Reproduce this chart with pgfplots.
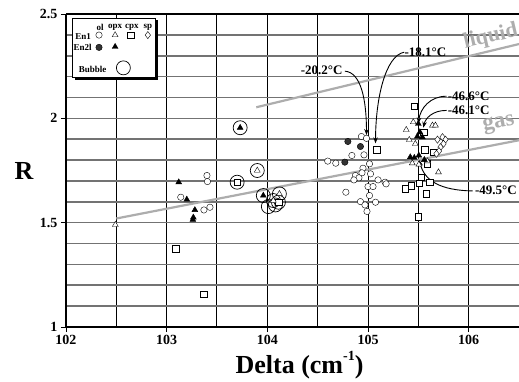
\documentclass[border=0pt]{standalone}
\usepackage{fontspec}
\setmainfont{Liberation Serif}
\usepackage{pgfplots}
\pgfplotsset{compat=1.18}
\usetikzlibrary{arrows.meta}
\definecolor{gridgray}{gray}{0.45}
\definecolor{linegray}{gray}{0.68}
\pgfplotsset{
 mk/.style={only marks, mark options={draw=black, line width=0.7pt, solid}},
 olE/.style={mk, mark=*, mark size=3.2pt, mark options={fill=white}},
 olF/.style={mk, mark=*, mark size=3.2pt, mark options={fill=black!80}},
 opxE/.style={mk, mark=triangle*, mark size=3.4pt, mark options={fill=white}},
 opxF/.style={mk, mark=triangle*, mark size=3.4pt, mark options={fill=black}},
 cpxE/.style={mk, mark=square*, mark size=3.3pt, mark options={fill=white}},
 spE/.style={mk, mark=diamond*, mark size=3.6pt, mark options={fill=white}},
 bub/.style={mk, mark=o, mark size=7pt},
}
\begin{document}
\begin{tikzpicture}
\begin{axis}[
 scale only axis, width=453pt, height=313pt,
 xmin=102, xmax=106.5, ymin=1, ymax=2.5,
 axis line style={draw=none},
 xtick={102,102.5,103,103.5,104,104.5,105,105.5,106},
 xticklabels={},
 ytick={1,1.1,1.2,1.3,1.4,1.5,1.6,1.7,1.8,1.9,2,2.1,2.2,2.3,2.4,2.5},
 yticklabels={},
 x grid style={black, line width=1pt},
 y grid style={gridgray, line width=1.6pt},
 xmajorgrids, ymajorgrids,
 major tick length=0pt,
 extra x ticks={102,103,104,105,106},
 extra y ticks={1,1.5,2,2.5},
 extra x tick style={grid=none, tick align=outside, major tick length=5pt, tick style={black, line width=0.8pt}},
 extra y tick style={grid=none, tick align=outside, major tick length=5pt, tick style={black, line width=0.8pt}},
 xtick pos=bottom, ytick pos=left,
 /pgf/number format/assume math mode=true,
 ticklabel style={font=\bfseries\fontsize{14}{14}\selectfont},
 clip=false,
]
% phase lines
\addplot[linegray, line width=2.2pt] coordinates {(103.89,2.053) (106.5,2.356)};
\addplot[linegray, line width=2.2pt] coordinates {(102.5,1.52) (106.5,1.895)};
% axis border
\draw[black, line width=1.4pt] (axis cs:102,2.5) -- (axis cs:102,1) -- (axis cs:106.5,1);
\draw[black, line width=1.4pt] (axis cs:102,2.5) -- (axis cs:106.5,2.5);
% bubbles
\addplot[bub] coordinates {(103.73,1.955) (103.90,1.75) (103.70,1.694) (103.96,1.63) (104.12,1.638) (104.06,1.606) (104.11,1.598) (104.01,1.577) (104.08,1.585)};
% En1 ol
\addplot[olE] coordinates {
(103.40,1.726) (103.405,1.697) (103.14,1.622) (103.37,1.561) (103.43,1.574)
(104.935,1.913) (104.985,1.904) (104.84,1.822) (104.96,1.825) (104.60,1.795) (104.68,1.785)
(105.015,1.782) (104.95,1.761) (104.94,1.739) (105.025,1.734) (104.875,1.726) (104.91,1.715)
(104.86,1.705) (105.10,1.705) (105.17,1.694) (105.18,1.686) (105.0,1.673) (105.05,1.673)
(104.78,1.646) (105.015,1.63) (104.925,1.601) (104.97,1.585) (105.075,1.598) (104.99,1.554)};
% En2l ol
\addplot[olF] coordinates {(104.80,1.889) (104.925,1.865) (104.77,1.79)};
% En1 cpx
\addplot[cpxE] coordinates {
(103.09,1.376) (103.37,1.157) (103.70,1.694) (104.11,1.598)
(105.085,1.85) (105.46,2.058) (105.555,1.934) (105.565,1.851) (105.655,1.838) (105.59,1.782)
(105.53,1.718) (105.51,1.689) (105.43,1.678) (105.615,1.694) (105.37,1.662) (105.58,1.638) (105.50,1.53)};
% En1 sp
\addplot[spE] coordinates {(105.69,1.898) (105.74,1.91) (105.77,1.898) (105.75,1.878) (105.72,1.862) (105.705,1.843) (105.68,1.83)};
% En1 opx
\addplot[opxE] coordinates {
(102.49,1.49) (103.90,1.75) (104.12,1.638) (104.06,1.606)
(105.38,1.945) (105.41,1.897) (105.45,1.982) (105.64,1.966) (105.67,1.966) (105.47,1.878)
(105.44,1.785) (105.505,1.779) (105.70,1.742) (105.59,1.795)};
% En2l opx
\addplot[opxF] coordinates {
(103.73,1.955) (103.96,1.63)
(103.12,1.694) (103.20,1.611) (103.28,1.561) (103.26,1.514) (103.265,1.525)
(105.50,1.974) (105.515,1.934) (105.54,1.91) (105.49,1.913)
(105.42,1.814) (105.46,1.811) (105.505,1.822) (105.56,1.801)};
% annotations
\tikzset{ann/.style={font=\bfseries\fontsize{13}{13}\selectfont, inner sep=1pt}, arr/.style={-{Stealth[length=6pt,width=4.5pt]}, line width=0.9pt}}
\node[ann] at (axis cs:104.54,2.231) {-20.2°C};
\draw[arr] (axis cs:104.77,2.226) .. controls (axis cs:104.93,2.221) and (axis cs:104.985,2.09) .. (axis cs:104.985,1.92);
\node[ann] at (axis cs:105.57,2.317) {-18.1°C};
\draw[arr] (axis cs:105.36,2.317) .. controls (axis cs:105.17,2.30) and (axis cs:105.075,2.09) .. (axis cs:105.075,1.88);
\node[ann] at (axis cs:106.0,2.106) {-46.6°C};
\draw[arr] (axis cs:105.78,2.106) .. controls (axis cs:105.62,2.106) and (axis cs:105.52,2.05) .. (axis cs:105.50,1.975);
\node[ann] at (axis cs:106.0,2.038) {-46.1°C};
\draw[arr] (axis cs:105.78,2.038) .. controls (axis cs:105.64,2.038) and (axis cs:105.57,2.0) .. (axis cs:105.55,1.955);
\node[ann] at (axis cs:106.27,1.655) {-49.5°C};
\draw[arr] (axis cs:106.04,1.652) .. controls (axis cs:105.72,1.655) and (axis cs:105.56,1.70) .. (axis cs:105.51,1.80);
\node[font=\bfseries\fontsize{22}{22}\selectfont, text=linegray, rotate=13, inner sep=0pt] at (axis cs:106.22,2.39) {liquid};
\node[font=\bfseries\fontsize{23}{23}\selectfont, text=linegray, rotate=11, inner sep=0pt] at (axis cs:106.3,1.972) {gas};
% legend box
\fill[black] (axis cs:102.085,2.469) rectangle (axis cs:102.91,2.185);
\draw[black, line width=0.8pt, fill=white] (axis cs:102.06,2.481) rectangle (axis cs:102.885,2.197);
\tikzset{lg/.style={font=\bfseries\fontsize{9}{9}\selectfont, inner sep=0pt}}
\node[lg] at (axis cs:102.338,2.435) {ol};
\node[lg] at (axis cs:102.488,2.435) {opx};
\node[lg] at (axis cs:102.654,2.435) {cpx};
\node[lg] at (axis cs:102.813,2.435) {sp};
\node[lg] at (axis cs:102.17,2.394) {En1};
\node[lg] at (axis cs:102.165,2.338) {En2l};
\node[lg] at (axis cs:102.265,2.236) {Bubble};
\addplot[olE] coordinates {(102.328,2.399)};
\addplot[opxE] coordinates {(102.488,2.399)};
\addplot[cpxE] coordinates {(102.644,2.399)};
\addplot[spE] coordinates {(102.813,2.399)};
\addplot[olF] coordinates {(102.328,2.340)};
\addplot[opxF] coordinates {(102.488,2.343)};
\addplot[bub] coordinates {(102.57,2.242)};
% axis labels
\node[font=\bfseries\fontsize{26}{26}\selectfont] at (rel axis cs:0,0.5) [xshift=-42pt] {R};
\node[font=\bfseries\fontsize{26}{26}\selectfont, anchor=base] at (rel axis cs:0.5,0) [yshift=-46pt, xshift=7pt] {Delta (cm\raisebox{0.5em}{\fontsize{14}{14}\selectfont -1})};
\end{axis}
\pgfresetboundingbox
\path (-66pt,-54pt) rectangle (453pt,327pt);
\end{tikzpicture}
\end{document}
